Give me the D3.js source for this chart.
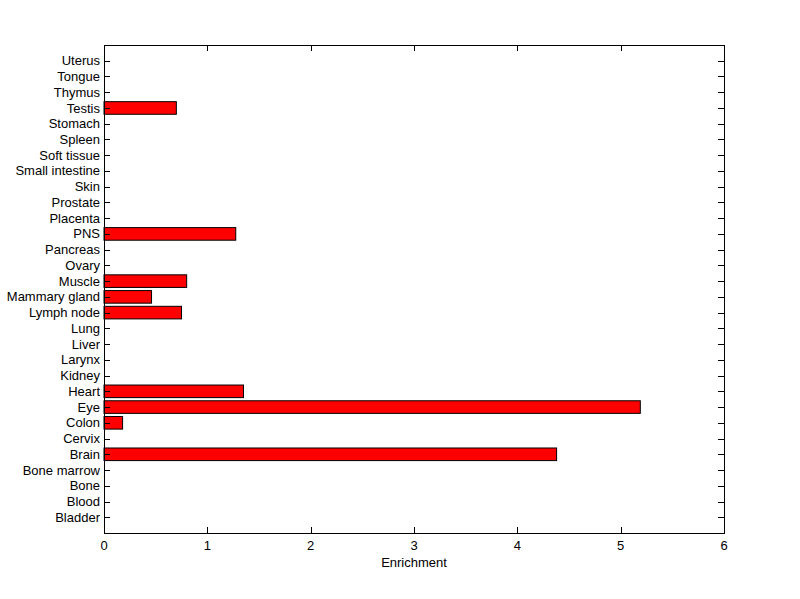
<!DOCTYPE html>
<html><head><meta charset="utf-8">
<script src="https://cdn.jsdelivr.net/npm/d3@7"></script>
<style>body{margin:0;background:#fff}svg{display:block}text{font-family:"Liberation Sans",Arial,sans-serif;font-size:13px;fill:#000}</style>
</head><body><svg id="c" width="800" height="599"></svg>
<script>
const categories = ["Bladder","Blood","Bone","Bone marrow","Brain","Cervix","Colon","Eye","Heart","Kidney","Larynx","Liver","Lung","Lymph node","Mammary gland","Muscle","Ovary","Pancreas","PNS","Placenta","Prostate","Skin","Small intestine","Soft tissue","Spleen","Stomach","Testis","Thymus","Tongue","Uterus"];
const values = [0,0,0,0,4.38,0,0.18,5.19,1.35,0,0,0,0,0.75,0.46,0.80,0,0,1.275,0,0,0,0,0,0,0,0.70,0,0,0];
const xTicks = [0,1,2,3,4,5,6];
const xLabel = "Enrichment";

const svg = d3.select("#c");
const L=104, R=724, T=45, B=533;
const x = d3.scaleLinear().domain([0,6]).range([L,R]);
const y = d3.scaleLinear().domain([0,31]).range([B,T]);
const bh = (B-T)/31*0.8;

svg.append("rect").attr("x",0).attr("y",0).attr("width",800).attr("height",599).attr("fill","#fff");

svg.selectAll("rect.bar").data(values.map((v,i)=>({v,i})).filter(d=>d.v>0)).enter().append("rect")
  .attr("class","bar")
  .attr("x",x(0)).attr("y",d=>y(d.i+1)-bh/2)
  .attr("width",d=>x(d.v)-x(0)).attr("height",bh)
  .attr("fill","#ff0000").attr("stroke","#000").attr("stroke-width",1);

const g = svg.append("g").attr("shape-rendering","crispEdges");
g.append("rect").attr("x",L+0.5).attr("y",T+0.5).attr("width",R-L).attr("height",B-T).attr("fill","none").attr("stroke","#000");
const tl=6;
xTicks.forEach(t=>{
  const xx=Math.round(x(t))+0.5;
  g.append("line").attr("x1",xx).attr("x2",xx).attr("y1",B).attr("y2",B-tl).attr("stroke","#000");
  g.append("line").attr("x1",xx).attr("x2",xx).attr("y1",T).attr("y2",T+tl).attr("stroke","#000");
  svg.append("text").attr("x",x(t)).attr("y",B+17).attr("text-anchor","middle").text(t);
});
categories.forEach((c,i)=>{
  const yy=Math.round(y(i+1))+0.5;
  g.append("line").attr("x1",L).attr("x2",L+tl).attr("y1",yy).attr("y2",yy).attr("stroke","#000");
  g.append("line").attr("x1",R).attr("x2",R-tl).attr("y1",yy).attr("y2",yy).attr("stroke","#000");
  svg.append("text").attr("x",L-4).attr("y",y(i+1)).attr("dy","0.35em").attr("text-anchor","end").text(c);
});
svg.append("text").attr("x",(L+R)/2).attr("y",B+34).attr("text-anchor","middle").text(xLabel);
</script></body></html>
